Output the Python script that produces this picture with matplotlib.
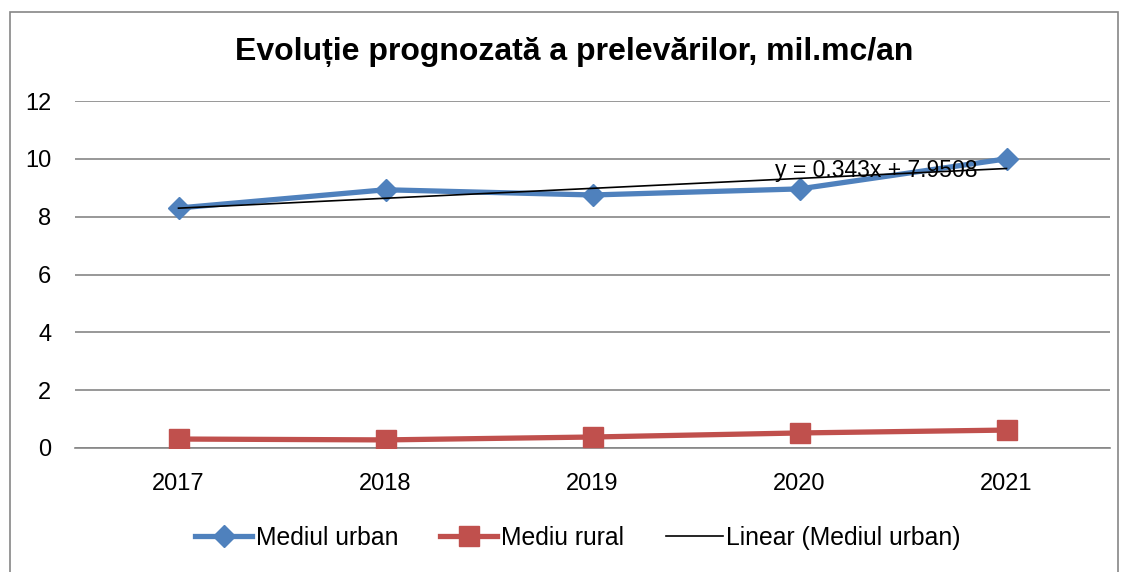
import matplotlib.pyplot as plt
from matplotlib.patches import Rectangle
from matplotlib.lines import Line2D

# date
ani = ['2017', '2018', '2019', '2020', '2021']
mediul_urban = [8.30, 8.93, 8.75, 8.96, 10.00]
mediu_rural = [0.31, 0.28, 0.38, 0.52, 0.62]
panta = 0.343
interceptie = 7.9508

plt.rcParams['font.family'] = ['Liberation Sans Narrow', 'Liberation Sans', 'DejaVu Sans']

fig = plt.figure(figsize=(11.25, 5.72), dpi=100)
fig.patches.append(Rectangle((10 / 1125, -0.05), 1108 / 1125, 1.05 - 12 / 572,
                             transform=fig.transFigure, fill=False,
                             edgecolor='#868686', linewidth=1.2))

ax = fig.add_axes([75 / 1125, (572 - 448) / 572, 1035 / 1125, 347 / 572])
x = list(range(1, len(ani) + 1))

ax.plot(x, mediul_urban, color='#4F81BD', linewidth=3.8, marker='D',
        markersize=11.5, label='Mediul urban', zorder=3)
ax.plot(x, mediu_rural, color='#C0504D', linewidth=3.8, marker='s',
        markersize=14, label='Mediu rural', zorder=3)
trend = [interceptie + panta * i for i in x]
ax.plot(x, trend, color='black', linewidth=1.2, label='Linear (Mediul urban)', zorder=4)
ax.text(4.37, 9.6, 'y = 0.343x + 7.9508', fontsize=16.5, ha='center', va='center', zorder=5)

ax.set_xlim(0.5, 5.5)
ax.set_ylim(0, 12)
ax.set_yticks(range(0, 13, 2))
ax.set_xticks(x)
ax.set_xticklabels(ani)
ax.tick_params(axis='both', length=0, labelsize=17)
ax.tick_params(axis='x', pad=18)
ax.tick_params(axis='y', pad=17)
ax.grid(axis='y', color='#868686', linewidth=1.2)
ax.set_axisbelow(True)
for s in ['top', 'right', 'left']:
    ax.spines[s].set_visible(False)
ax.spines['bottom'].set_color('#868686')
ax.spines['bottom'].set_linewidth(1.2)

fig.text(574 / 1125, 1 - 52 / 572, 'Evoluție prognozată a prelevărilor, mil.mc/an',
         fontsize=23, fontweight='bold', ha='center', va='center',
         family=['Liberation Sans', 'DejaVu Sans'])

handles = [Line2D([], [], color='#4F81BD', linewidth=3.8, marker='D', markersize=11.5),
           Line2D([], [], color='#C0504D', linewidth=3.8, marker='s', markersize=14),
           Line2D([], [], color='black', linewidth=1.2)]
fig.legend(handles, ['Mediul urban', 'Mediu rural', 'Linear (Mediul urban)'],
           loc='center', bbox_to_anchor=(578 / 1125, 1 - 538 / 572), ncol=3,
           frameon=False, fontsize=17.8, handlelength=2.3, columnspacing=1.7, handletextpad=0.15)

fig.savefig('out.png', dpi=100)
